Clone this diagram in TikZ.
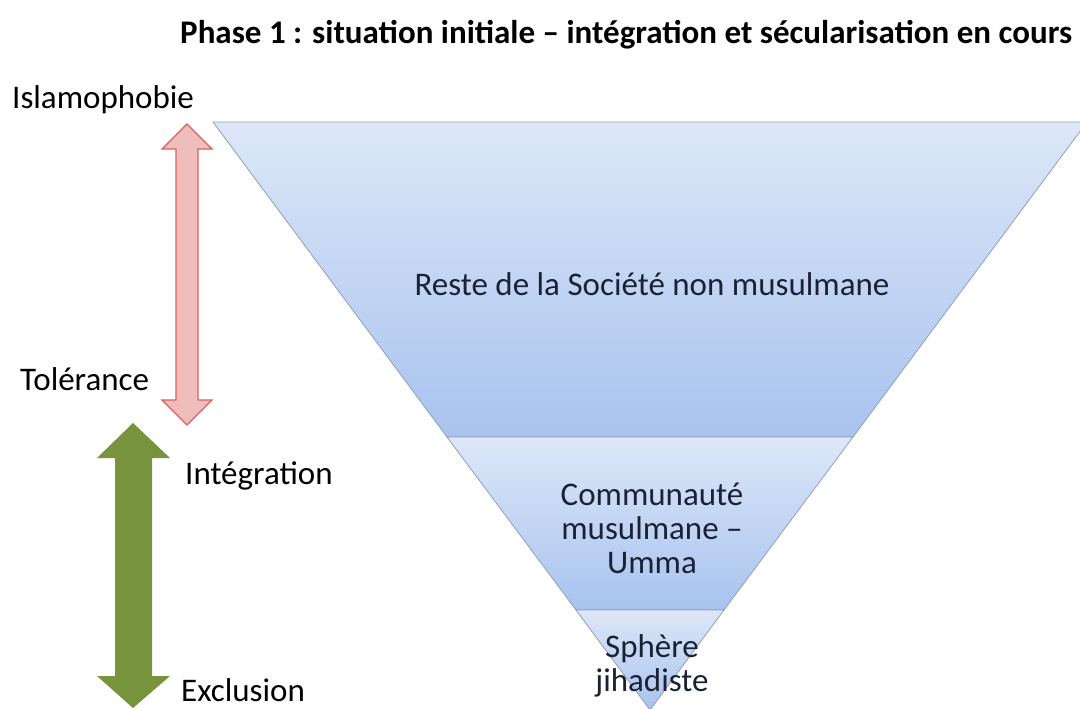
\documentclass[tikz,border=0pt]{standalone}
\usepackage{fontspec}
\setmainfont{Carlito}
\begin{document}
\begin{tikzpicture}[x=1pt,y=-1pt,
  band/.style={draw=bandline, line width=0.8pt, top color=bandtop, bottom color=bandbot},
  lbl/.style={font=\fontsize{33}{40}\selectfont, text=black, inner sep=0pt},
  inlbl/.style={font=\fontsize{33}{34}\selectfont, text=inktext, align=center, inner sep=0pt},
  ttl/.style={font=\fontsize{33}{40}\selectfont\bfseries, text=black, inner sep=0pt}]
\definecolor{bandtop}{HTML}{DDE7F8}
\definecolor{bandbot}{HTML}{A8C3EE}
\definecolor{bandline}{HTML}{8EA0BC}
\definecolor{inktext}{HTML}{1B2236}
\definecolor{redfill}{HTML}{F0BDBD}
\definecolor{redline}{HTML}{D9605C}
\definecolor{greenfill}{HTML}{77933C}
\useasboundingbox (0,0) rectangle (1080,709);
\clip (0,0) rectangle (1080,709);
% bands of the inverted triangle
\coordinate (TL) at (213,122);
\coordinate (TR) at (1087,122);
\coordinate (A) at (650,710);
\coordinate (B1L) at (447,437);
\coordinate (B1R) at (853,437);
\coordinate (B2L) at (576,610);
\coordinate (B2R) at (724,610);
\path[band] (TL) -- (TR) -- (B1R) -- (B1L) -- cycle;
\path[band] (B1L) -- (B1R) -- (B2R) -- (B2L) -- cycle;
\path[band] (B2L) -- (B2R) -- (A) -- cycle;
% red double arrow
\filldraw[fill=redfill, draw=redline, line width=1.2pt]
  (187,124) -- (212,149) -- (198,149) -- (198,400) -- (212,400) -- (187,425)
  -- (162,400) -- (176,400) -- (176,149) -- (162,149) -- cycle;
% green double arrow
\fill[greenfill]
  (133,423) -- (170,458) -- (152,458) -- (152,676) -- (170,676) -- (133,708)
  -- (97,676) -- (115,676) -- (115,458) -- (97,458) -- cycle;
% texts
\node[ttl, anchor=west] (title) at (180,35) {Phase 1 : situation initiale -- intégration et sécularisation en cours};
\node[lbl, anchor=base west] (islam) at (12,108) {Islamophobie};
\node[lbl, anchor=west] (tol) at (20,379) {Tolérance};
\node[lbl, anchor=west] (integ) at (185,476) {Intégration};
\node[lbl, anchor=base west, text depth=0pt] (excl) at (181,701) {Exclusion};
\node[inlbl] (reste) at (652,284) {Reste de la Société non musulmane};
\node[inlbl] (umma) at (652,528) {Communauté\\musulmane --\\Umma};
\node[inlbl] (jihad) at (652,666) {Sphère\\jihadiste};
\end{tikzpicture}
\end{document}
